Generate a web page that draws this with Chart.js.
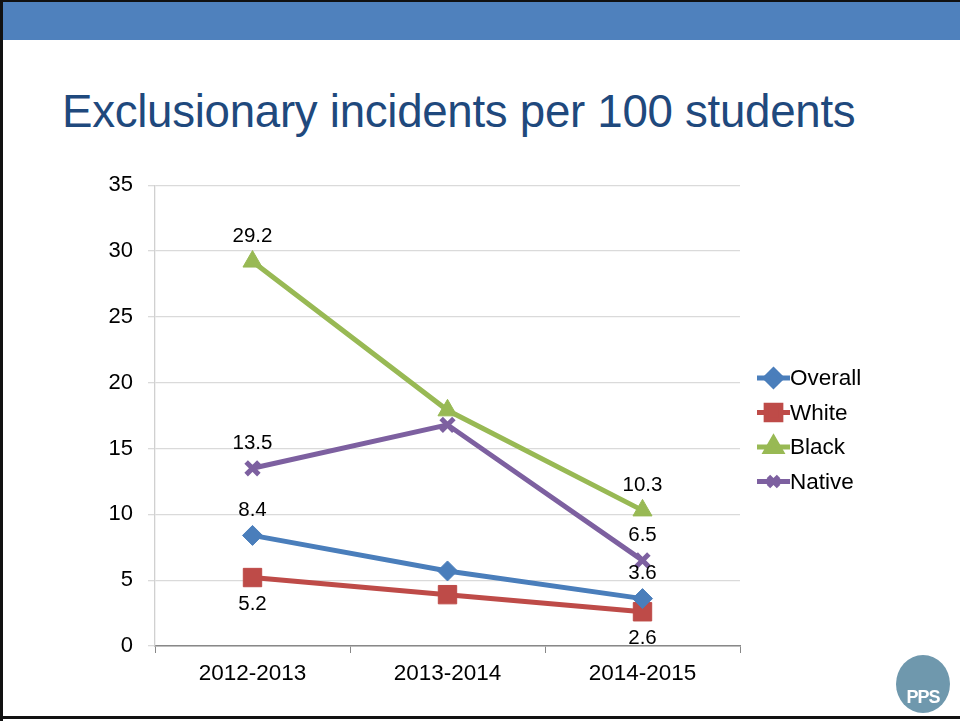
<!DOCTYPE html>
<html>
<head>
<meta charset="utf-8">
<script src="https://cdn.jsdelivr.net/npm/chart.js@4"></script>
<style>
  html, body { margin: 0; padding: 0; background: #fff; }
  #slide { position: relative; width: 960px; height: 721px; overflow: hidden; background: #fff; font-family: "Liberation Sans", Arial, sans-serif; }
  #topline { position: absolute; left: 0; top: 0; width: 960px; height: 2px; background: #111; }
  #bar { position: absolute; left: 0; top: 2px; width: 960px; height: 38px; background: #4F81BD; }
  #leftline { position: absolute; left: 0; top: 0; width: 3px; height: 721px; background: #111; }
  #bottomline { position: absolute; left: 0; top: 716px; width: 960px; height: 3px; background: #111; }
  #title { position: absolute; left: 62px; top: 86px; font-size: 45.7px; color: #1F497D; white-space: nowrap; letter-spacing: -0.3px; }
  #chartbox { position: absolute; left: 0; top: 157px; width: 960px; height: 543px; }
  #logo { position: absolute; left: 896px; top: 655px; width: 54px; height: 58px; border-radius: 50%; background: #6F98AD; color: #fff; font-weight: bold; font-size: 18px; text-align: center; line-height: 84px; letter-spacing: -1px; }
</style>
</head>
<body>
<div id="slide">
  <div id="bar"></div>
  <div id="topline"></div>
  <div id="leftline"></div>
  <div id="bottomline"></div>
  <div id="title">Exclusionary incidents per 100 students</div>
  <div id="chartbox"><canvas id="c" width="960" height="543"></canvas></div>
  <div id="logo">PPS</div>
</div>
<script>
const categories = ["2012-2013", "2013-2014", "2014-2015"];
const overall = [8.4, 5.7, 3.6];
const white = [5.2, 3.9, 2.6];
const black = [29.2, 17.9, 10.3];
const native = [13.5, 16.8, 6.5];
const seriesNames = ["Overall", "White", "Black", "Native"];
// which points carry a value label, and where (above / below)
const labelPos = {
  Overall: ["above", null, "above"],
  White: ["below", null, "below"],
  Black: ["above", null, "above"],
  Native: ["above", null, "above"]
};

const FONT = "'Liberation Sans', Arial, sans-serif";
const colors = { Overall: "#4A7EBB", White: "#BE4B48", Black: "#98B954", Native: "#7D60A0" };
const styles = {
  Overall: { pointStyle: "rectRot", radius: 10, borderWidth: 1 },
  White: { pointStyle: "rect", radius: 13, borderWidth: 1 },
  Black: { pointStyle: "triangle", radius: 11, borderWidth: 1 },
  Native: { pointStyle: "crossRot", radius: 9, borderWidth: 5 }
};
const dataMap = { Overall: overall, White: white, Black: black, Native: native };

const datasets = seriesNames.map(n => ({
  label: n,
  data: dataMap[n],
  borderColor: colors[n],
  backgroundColor: colors[n],
  borderWidth: 5,
  pointStyle: styles[n].pointStyle,
  pointRadius: styles[n].radius,
  pointHoverRadius: styles[n].radius,
  pointBorderWidth: styles[n].borderWidth,
  pointBackgroundColor: colors[n],
  pointBorderColor: colors[n],
  tension: 0
}));

const labelsPlugin = {
  id: "valueLabels",
  afterDatasetsDraw(chart) {
    const ctx = chart.ctx;
    ctx.save();
    ctx.font = "20.5px " + FONT;
    ctx.fillStyle = "#000";
    ctx.textAlign = "center";
    ctx.textBaseline = "middle";
    chart.data.datasets.forEach((ds, di) => {
      const meta = chart.getDatasetMeta(di);
      meta.data.forEach((pt, i) => {
        const pos = labelPos[ds.label][i];
        if (!pos) return;
        const dy = pos === "above" ? -25 : 27;
        ctx.fillText(String(ds.data[i]), pt.x, pt.y + dy);
      });
    });
    ctx.restore();
  }
};

const legendPlugin = {
  id: "customLegend",
  afterDraw(chart) {
    const ctx = chart.ctx;
    const x0 = 757, x1 = 790;
    const yStart = 378 - 157, step = 34.5;
    ctx.save();
    seriesNames.forEach((n, i) => {
      const y = yStart + i * step;
      ctx.strokeStyle = colors[n];
      ctx.lineWidth = 5;
      ctx.beginPath();
      ctx.moveTo(x0, y);
      ctx.lineTo(x1, y);
      ctx.stroke();
      ctx.fillStyle = colors[n];
      Chart.helpers.drawPoint(ctx, {
        pointStyle: styles[n].pointStyle,
        radius: styles[n].radius * 0.8,
        borderWidth: styles[n].pointStyle === "crossRot" ? 4 : 1,
        rotation: 0
      }, (x0 + x1) / 2, y);
      ctx.fillStyle = "#000";
      ctx.font = "22.5px " + FONT;
      ctx.textAlign = "left";
      ctx.textBaseline = "middle";
      ctx.fillText(n, x1, y + 1);
    });
    ctx.restore();
  }
};

new Chart(document.getElementById("c"), {
  type: "line",
  data: { labels: categories, datasets },
  options: {
    responsive: false,
    animation: false,
    events: [],
    layout: { padding: { left: 0, right: 220, top: 22, bottom: 0 } },
    plugins: { legend: { display: false }, tooltip: { enabled: false }, title: { display: false } },
    scales: {
      x: {
        offset: true,
        grid: { display: true, drawOnChartArea: false, offset: true, color: "#888", tickLength: 7, tickWidth: 1 },
        border: { display: true, color: "#888", width: 1.5 },
        ticks: { color: "#000", font: { size: 22.5, family: FONT }, padding: 7, maxRotation: 0 },
        afterFit(s) { s.height = 54; }
      },
      y: {
        min: 0, max: 35,
        ticks: { stepSize: 5, color: "#000", font: { size: 22, family: FONT }, padding: 15 },
        grid: { color: "#DADADA", lineWidth: 1.3, tickLength: 7 },
        border: { display: true, color: "#D0D0D0", width: 1.3 },
        afterFit(s) { s.width = 155; }
      }
    }
  },
  plugins: [labelsPlugin, legendPlugin]
});
</script>
</body>
</html>
